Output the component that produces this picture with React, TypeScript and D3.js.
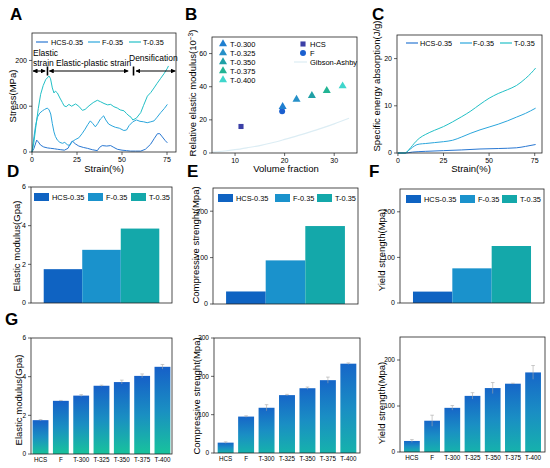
import React from "react";
import * as d3 from "d3";

type Pt = [number, number];
type Box = { l: number; r: number; t: number; b: number };

const FONT = "'Liberation Sans', Arial, Helvetica, sans-serif";

// ---- A: stress-strain curves
const sampleNames = ["HCS-0.35", "F-0.35", "T-0.35"];
const hcsStress: Pt[] = [
  [0, 0], [1.1, 8], [2.6, 26], [3.5, 22], [4.8, 15], [6.5, 11], [8.5, 9], [10.4, 8],
  [12.5, 7], [14.1, 6], [16, 5], [18, 4], [20, 8], [21.3, 18], [22.4, 24], [24, 18],
  [26, 13], [28.5, 10], [30.8, 8], [33.5, 5], [36.3, 3], [37.5, 10], [39, 14], [41.5, 13],
  [43.7, 14], [45.5, 10], [47.4, 6], [50, 4], [52.5, 3], [54.8, 2], [57.5, 2], [60.4, 2],
  [63, 6], [65.9, 17], [68, 30], [69.7, 40], [71, 40], [72.4, 33], [74, 25], [75.2, 20],
];
const fStress: Pt[] = [
  [0, 0], [1.1, 33], [2, 58], [3, 76], [4.3, 85], [5.8, 90], [7, 93], [8.5, 96], [9.5, 92],
  [10.4, 83], [11.3, 62], [12.2, 44], [13, 34], [14.1, 26], [15.5, 21], [16.9, 19], [18.2, 21],
  [19.6, 16], [21, 14], [22.2, 22], [24, 27], [26, 31], [27.8, 40], [29.5, 50], [31, 60],
  [32.4, 68], [33.8, 62], [35.2, 55], [36.5, 62], [38, 72], [39.8, 79], [41, 70], [42.6, 61],
  [44.5, 57], [46.3, 54], [48.5, 52], [51, 47], [52.5, 48], [54, 58], [56, 66], [58, 70],
  [60, 67], [62, 66], [64, 64], [66, 66], [67.8, 68], [69.5, 76], [71.5, 86], [73.5, 95],
  [75.2, 104],
];
const tStress: Pt[] = [
  [0, 0], [1, 20], [2.1, 54], [3.5, 95], [4.8, 126], [6.2, 145], [7.6, 158], [8.5, 162],
  [9.5, 166], [10.3, 160], [11.3, 140], [12.2, 129], [13, 133], [14.1, 129], [15.5, 118],
  [16.9, 108], [17.8, 101], [19, 99], [20.5, 104], [22, 100], [24.2, 105], [26, 100], [28, 91],
  [29.5, 93], [31.7, 101], [34, 108], [36.3, 113], [38, 110], [40, 106], [42, 103], [43.7, 104],
  [45.5, 99], [47.4, 96], [49, 92], [51.1, 90], [52.5, 84], [53.9, 79], [55, 76], [56, 70],
  [58, 74], [60.4, 86], [62, 102], [64.1, 122], [66, 130], [67.8, 140], [69.5, 150],
  [71.5, 161], [73.5, 172], [75.2, 183], [75.8, 188],
];
const strainTicks = [0, 25, 50, 75];
const stressTicks = [0, 100, 200];
const phaseSpans: Pt[] = [[0.6, 7.3], [9.6, 53.4], [57.8, 79.6]];
const phaseDividers = [8.6, 56.4];

// ---- B: relative modulus vs volume fraction
const tNames = ["T-0.300", "T-0.325", "T-0.350", "T-0.375", "T-0.400"];
const tVolume = [19.6, 22.4, 25.5, 28.5, 31.7];
const tRelModulus = [28, 32.4, 34.6, 37.6, 40.4];
const hcsPoint: Pt = [11.2, 16];
const fPoint: Pt = [19.5, 25.2];
const gibsonAshby: Pt[] = [
  [5.5, 0.5], [8, 1.2], [10, 2], [12.5, 3.2], [15, 4.5], [17.5, 6.2], [20, 8.2],
  [22.5, 10.3], [25, 12.6], [27.5, 15], [30, 17.6], [33, 21],
];
const volumeTicks = [10, 20, 30];
const relModTicks = [0, 20, 40, 60];

// ---- C: specific energy absorption
const hcsSEA: Pt[] = [
  [0, 0], [4, 0], [8, 0.2], [15, 0.35], [25, 0.5], [35, 0.65], [45, 0.85], [55, 0.95],
  [65, 1.1], [70, 1.4], [75.5, 1.8],
];
const fSEA: Pt[] = [
  [0, 0], [4, 0], [6, 0.6], [8, 1.2], [10, 1.7], [12, 1.9], [15, 2.0], [20, 2.2], [25, 2.4],
  [30, 2.7], [35, 3.4], [40, 4.2], [45, 4.9], [50, 5.5], [55, 6.1], [60, 6.8], [65, 7.6],
  [70, 8.4], [75.5, 9.5],
];
const tSEA: Pt[] = [
  [0, 0], [4, 0], [6, 0.7], [8, 1.6], [10, 2.5], [12, 3.2], [15, 3.9], [20, 4.8], [25, 5.6],
  [30, 6.6], [35, 7.7], [40, 8.9], [45, 10.3], [50, 11.6], [55, 12.6], [60, 13.4], [65, 14.3],
  [70, 15.8], [73, 16.9], [75.5, 18],
];
const seaTicks = [0, 10, 20];

// ---- D/E/F: three samples
const trioModulus = [1.75, 2.75, 3.85];
const trioCompressive = [27, 94, 168];
const trioYield = [25, 76, 125];

// ---- G/H/I: seven groups with error bars
const groups = ["HCS", "F", "T-300", "T-325", "T-350", "T-375", "T-400"];
const modulusMean = [1.75, 2.75, 3.02, 3.53, 3.72, 4.04, 4.51];
const modulusErr = [0.03, 0.02, 0.05, 0.03, 0.1, 0.1, 0.12];
const compressiveMean = [27, 95, 118, 151, 169, 190, 233];
const compressiveErr = [2, 2, 8, 2, 3, 8, 2];
const yieldMean = [24, 68, 96, 122, 139, 148.5, 173];
const yieldErr = [3, 12, 5, 7, 12, 1, 15];

const lineColors = ["#2a78d2", "#2ba6dc", "#22c0c6"];
const trioColors = ["#0f63c2", "#1a92cc", "#14a8aa"];
const tColors = ["#1f7fd0", "#2690c8", "#1fa0a6", "#22b494", "#3fd6cc"];
const gibsonColor = "#dcedf4";

const Frame = ({ box }: { box: Box }) => (
  <rect x={box.l} y={box.t} width={box.r - box.l} height={box.b - box.t}
    fill="none" stroke="#222" strokeWidth={0.8} />
);

const YAxis = ({ box, scale, ticks, size = 7 }: { box: Box; scale: (v: number) => number; ticks: number[]; size?: number }) => (
  <g>
    {ticks.map((v) => (
      <g key={v}>
        <line x1={box.l - 3} x2={box.l} y1={scale(v)} y2={scale(v)} stroke="#222" strokeWidth={0.7} />
        <text x={box.l - 5} y={scale(v) + size * 0.35} textAnchor="end" fontSize={size}>{v}</text>
      </g>
    ))}
  </g>
);

const XAxis = ({ box, scale, ticks }: { box: Box; scale: (v: number) => number; ticks: number[] }) => (
  <g>
    {ticks.map((v) => (
      <g key={v}>
        <line x1={scale(v)} x2={scale(v)} y1={box.b} y2={box.b + 3} stroke="#222" strokeWidth={0.7} />
        <text x={scale(v)} y={box.b + 10} textAnchor="middle" fontSize={7}>{v}</text>
      </g>
    ))}
  </g>
);

const YTitle = ({ x, y, children }: { x: number; y: number; children: React.ReactNode }) => (
  <text transform={`translate(${x},${y}) rotate(-90)`} textAnchor="middle" fontSize={9.5}>{children}</text>
);

const Letter = ({ x, y, t }: { x: number; y: number; t: string }) => (
  <text x={x} y={y} fontSize={17} fontWeight="bold">{t}</text>
);

function CurvePanel({ box, xDomain, yDomain, series, yTicks, legendX, legendY, smooth }: {
  box: Box; xDomain: Pt; yDomain: Pt; series: Pt[][]; yTicks: number[];
  legendX: Pt[]; legendY: number; smooth?: boolean;
}) {
  const x = d3.scaleLinear().domain(xDomain).range([box.l, box.r]);
  const y = d3.scaleLinear().domain(yDomain).range([box.b, box.t]);
  const line = d3.line<Pt>().x((d) => x(d[0])).y((d) => y(d[1]))
    .curve(smooth ? d3.curveMonotoneX : d3.curveLinear);
  return (
    <g>
      {series.map((s, i) => (
        <path key={i} d={line(s) ?? ""} fill="none" stroke={lineColors[i]} strokeWidth={1} />
      ))}
      <Frame box={box} />
      <XAxis box={box} scale={x} ticks={strainTicks} />
      <YAxis box={box} scale={y} ticks={yTicks} />
      {sampleNames.map((n, i) => (
        <g key={n}>
          <line x1={legendX[i][0]} x2={legendX[i][0] + 12} y1={legendY} y2={legendY}
            stroke={lineColors[i]} strokeWidth={1.2} />
          <text x={legendX[i][1]} y={legendY + 2.5} fontSize={7.3}>{n}</text>
        </g>
      ))}
    </g>
  );
}

function PanelA() {
  const box: Box = { l: 32, r: 176, t: 33, b: 152 };
  const x = d3.scaleLinear().domain([0, 80]).range([box.l, box.r]);
  const ay = 71;
  return (
    <g>
      <CurvePanel box={box} xDomain={[0, 80]} yDomain={[0, 260]}
        series={[hcsStress, fStress, tStress]} yTicks={stressTicks}
        legendX={[[36, 51], [88, 102], [129, 143]]} legendY={42} />
      {phaseSpans.map(([a, b], i) => (
        <line key={i} x1={x(a)} x2={x(b)} y1={ay} y2={ay} stroke="#000" strokeWidth={1.1}
          markerStart="url(#arr)" markerEnd="url(#arr)" />
      ))}
      {phaseDividers.map((d) => (
        <line key={d} x1={x(d)} x2={x(d)} y1={ay - 4.5} y2={ay + 4.5} stroke="#000" strokeWidth={1.6} />
      ))}
      <text x={33} y={56} fontSize={8.5}>Elastic</text>
      <text x={33} y={66} fontSize={8.5}>strain</text>
      <text x={56} y={66} fontSize={8.5}>Elastic-plastic strain</text>
      <text x={129} y={61} fontSize={8.5}>Densification</text>
      <text x={104} y={172} textAnchor="middle" fontSize={9.5}>Strain(%)</text>
      <YTitle x={16} y={96}>Stress(MPa)</YTitle>
      <Letter x={10} y={20} t="A" />
    </g>
  );
}

function PanelB() {
  const box: Box = { l: 212, r: 357, t: 37, b: 153 };
  const x = d3.scaleLinear().domain([5.35, 34.6]).range([box.l, box.r]);
  const y = d3.scaleLinear().domain([0, 70]).range([box.b, box.t]);
  const tri = d3.symbol().type(d3.symbolTriangle).size(28)() ?? "";
  const sq = d3.symbol().type(d3.symbolSquare).size(26)() ?? "";
  const circ = d3.symbol().type(d3.symbolCircle).size(28)() ?? "";
  const line = d3.line<Pt>().x((d) => x(d[0])).y((d) => y(d[1])).curve(d3.curveMonotoneX);
  const legY = [44, 53, 62, 71, 80];
  return (
    <g>
      <path d={line(gibsonAshby) ?? ""} fill="none" stroke={gibsonColor} strokeWidth={1.2} />
      <path d={sq} transform={`translate(${x(hcsPoint[0])},${y(hcsPoint[1])})`} fill="#3b3fa6" />
      <path d={circ} transform={`translate(${x(fPoint[0])},${y(fPoint[1])})`} fill="#1a5fcf" />
      {tNames.map((n, i) => (
        <path key={n} d={tri} transform={`translate(${x(tVolume[i])},${y(tRelModulus[i])})`} fill={tColors[i]} />
      ))}
      <Frame box={box} />
      <XAxis box={box} scale={x} ticks={volumeTicks} />
      <YAxis box={box} scale={y} ticks={relModTicks} />
      {tNames.map((n, i) => (
        <g key={n}>
          <path d={tri} transform={`translate(223,${legY[i]})`} fill={tColors[i]} />
          <text x={230} y={legY[i] + 2.6} fontSize={7.5}>{n}</text>
        </g>
      ))}
      <path d={sq} transform={`translate(303,${legY[0]})`} fill="#3b3fa6" />
      <text x={310} y={legY[0] + 2.6} fontSize={7.5}>HCS</text>
      <path d={circ} transform={`translate(303,${legY[1]})`} fill="#1a5fcf" />
      <text x={310} y={legY[1] + 2.6} fontSize={7.5}>F</text>
      <line x1={294} x2={307} y1={legY[2]} y2={legY[2]} stroke={gibsonColor} strokeWidth={1.2} />
      <text x={310} y={legY[2] + 2.6} fontSize={7.5}>Gibson-Ashby</text>
      <text x={286} y={172} textAnchor="middle" fontSize={9.5}>Volume fraction</text>
      <YTitle x={196} y={93}>
        Relative elastic modulus(10<tspan dy={-3} fontSize={6.5}>−3</tspan><tspan dy={3}>)</tspan>
      </YTitle>
      <Letter x={185} y={20} t="B" />
    </g>
  );
}

function PanelC() {
  const box: Box = { l: 397, r: 542, t: 35, b: 153 };
  return (
    <g>
      <CurvePanel box={box} xDomain={[-0.5, 79]} yDomain={[0, 25]}
        series={[hcsSEA, fSEA, tSEA]} yTicks={seaTicks} smooth
        legendX={[[406, 420], [460, 473], [500, 514]]} legendY={43} />
      <text x={471} y={172} textAnchor="middle" fontSize={9.5}>Strain(%)</text>
      <YTitle x={380} y={86}>Specific energy absorption(J/g)</YTitle>
      <Letter x={372} y={20} t="C" />
    </g>
  );
}

function TrioPanel({ box, values, yMax, yTicks, legend, title, titleX, titleY }: {
  box: Box; values: number[]; yMax: number; yTicks: number[]; legend: number[];
  title: string; titleX: number; titleY: number;
}) {
  const x = d3.scaleBand<string>().domain(sampleNames).range([box.l, box.r]).paddingInner(0).paddingOuter(0.33);
  const y = d3.scaleLinear().domain([0, yMax]).range([box.b, box.t]);
  const ly = box.t + 10;
  return (
    <g>
      {sampleNames.map((n, i) => (
        <rect key={n} x={x(n)} y={y(values[i])} width={x.bandwidth()} height={box.b - y(values[i])} fill={trioColors[i]} />
      ))}
      <Frame box={box} />
      <YAxis box={box} scale={y} ticks={yTicks} />
      {sampleNames.map((n, i) => (
        <g key={n}>
          <rect x={legend[i]} y={ly - 4} width={15} height={8} fill={trioColors[i]} />
          <text x={legend[i] + 18} y={ly + 2.6} fontSize={7.4}>{n}</text>
        </g>
      ))}
      <YTitle x={titleX} y={titleY}>{title}</YTitle>
    </g>
  );
}

function SevenPanel({ box, means, errs, yMax, yTicks, grad, title, titleX, titleY, outer }: {
  box: Box; means: number[]; errs: number[]; yMax: number; yTicks: number[]; grad: string;
  title: string; titleX: number; titleY: number; outer: number;
}) {
  const x = d3.scaleBand<string>().domain(groups).range([box.l, box.r]).paddingInner(0.22).paddingOuter(outer);
  const y = d3.scaleLinear().domain([0, yMax]).range([box.b, box.t]);
  const bw = x.bandwidth();
  return (
    <g>
      {groups.map((g, i) => {
        const cx = (x(g) ?? 0) + bw / 2;
        return (
          <g key={g}>
            <rect x={x(g)} y={y(means[i])} width={bw} height={box.b - y(means[i])} fill={`url(#${grad})`} />
            <line x1={cx} x2={cx} y1={y(means[i] + errs[i])} y2={y(means[i] - errs[i])} stroke="#a8a8a8" strokeWidth={0.6} />
            <line x1={cx - 1.8} x2={cx + 1.8} y1={y(means[i] + errs[i])} y2={y(means[i] + errs[i])} stroke="#a8a8a8" strokeWidth={0.6} />
            <text x={cx} y={box.b + 8} textAnchor="middle" fontSize={6.3}>{g}</text>
          </g>
        );
      })}
      <Frame box={box} />
      <YAxis box={box} scale={y} ticks={yTicks} size={6.5} />
      <YTitle x={titleX} y={titleY}>{title}</YTitle>
    </g>
  );
}

export default function App() {
  return (
    <svg width={550} height={468} viewBox="0 0 550 468"
      style={{ position: "fixed", left: 0, top: 0, background: "#fff" }}
      fontFamily={FONT}>
      <defs>
        <marker id="arr" viewBox="0 0 10 10" refX={9} refY={5} markerWidth={4.5} markerHeight={4.5}
          orient="auto-start-reverse">
          <path d="M0,0 L10,5 L0,10 z" fill="#000" />
        </marker>
        <linearGradient id="gradG" x1="0" y1="0" x2="0" y2="1">
          <stop offset="0" stopColor="#1660c8" />
          <stop offset="0.5" stopColor="#1a8fc2" />
          <stop offset="1" stopColor="#18c39c" />
        </linearGradient>
        <linearGradient id="gradHI" x1="0" y1="0" x2="0" y2="1">
          <stop offset="0" stopColor="#1666c8" />
          <stop offset="0.5" stopColor="#1a8ec4" />
          <stop offset="1" stopColor="#16b2ac" />
        </linearGradient>
      </defs>
      <rect width={550} height={468} fill="#fff" />
      <PanelA />
      <PanelB />
      <PanelC />

      <TrioPanel box={{ l: 31, r: 172, t: 187, b: 303 }} values={trioModulus} yMax={6} yTicks={[0, 2, 4, 6]}
        legend={[34, 88, 131]} title="Elastic modulus(Gpa)" titleX={20} titleY={246} />
      <Letter x={7} y={177} t="D" />
      <TrioPanel box={{ l: 213, r: 358, t: 188, b: 304 }} values={trioCompressive} yMax={250} yTicks={[0, 100, 200]}
        legend={[218, 275, 317]} title="Compressive strenght(Mpa)" titleX={199} titleY={245} />
      <Letter x={187} y={177} t="E" />
      <TrioPanel box={{ l: 400, r: 544, t: 189, b: 303 }} values={trioYield} yMax={250} yTicks={[0, 100, 200]}
        legend={[406, 460, 502]} title="Yield strength(Mpa)" titleX={385} titleY={250} />
      <Letter x={369} y={177} t="F" />

      <SevenPanel box={{ l: 31, r: 172, t: 338, b: 454 }} means={modulusMean} errs={modulusErr} yMax={6}
        yTicks={[0, 2, 4, 6]} grad="gradG" title="Elastic modulus(Gpa)" titleX={22} titleY={400} outer={0.08} />
      <Letter x={5} y={325} t="G" />
      <SevenPanel box={{ l: 214, r: 360, t: 338, b: 453 }} means={compressiveMean} errs={compressiveErr} yMax={300}
        yTicks={[0, 100, 200, 300]} grad="gradHI" title="Compressive strenght(Mpa)" titleX={200} titleY={396} outer={0.18} />
      <SevenPanel box={{ l: 400, r: 545, t: 337, b: 452 }} means={yieldMean} errs={yieldErr} yMax={250}
        yTicks={[0, 100, 200]} grad="gradHI" title="Yield strength(Mpa)" titleX={385} titleY={403} outer={0.2} />
    </svg>
  );
}
